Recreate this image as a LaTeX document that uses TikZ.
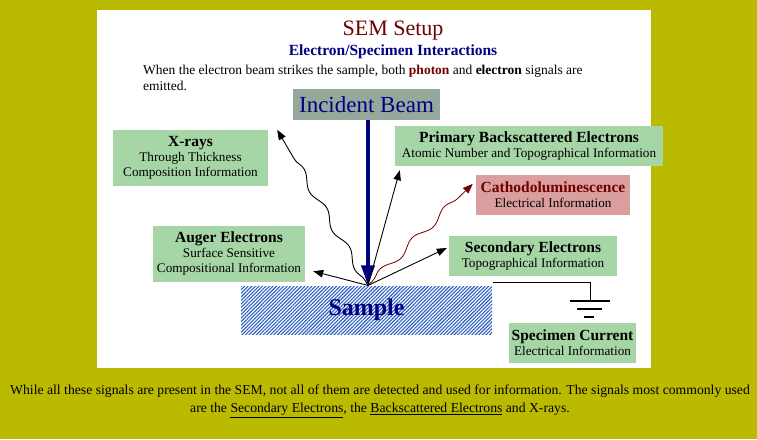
\documentclass[tikz,border=0pt]{standalone}
\usepackage{fontspec}
\setmainfont{Liberation Serif}
\usetikzlibrary{arrows.meta,positioning,patterns.meta,decorations.pathmorphing}
\definecolor{olivebg}{RGB}{186,186,0}
\definecolor{boxgreen}{RGB}{166,214,166}
\definecolor{beamgray}{RGB}{150,168,156}
\definecolor{clpink}{RGB}{218,158,158}
\definecolor{darkred}{RGB}{112,0,0}
\definecolor{navyblue}{RGB}{0,0,128}
\definecolor{samplefill}{RGB}{165,195,238}
\definecolor{samplehatch}{RGB}{45,95,195}
\newcommand{\boxhead}[1]{{\fontsize{15.5}{16}\selectfont\bfseries #1}}

\begin{document}
\begin{tikzpicture}[x=1pt,y=-1pt,
  infobox/.style={fill=boxgreen,align=center,inner sep=0pt,font=\fontsize{13.2}{15}\selectfont},
  sig/.style={-{Triangle[length=10pt,width=7.5pt]},line width=.9pt},
  wavy/.style={decorate,decoration={snake,amplitude=3.5pt,segment length=45pt,pre length=6pt,post length=12pt}}]
\useasboundingbox (0,0) rectangle (757,439);
\fill[olivebg] (0,0) rectangle (757,439);
\fill[white] (97,10) rectangle (651,368);
\node (title) at (393,31) {\fontsize{22}{24}\selectfont\color{darkred}SEM Setup};
\node (subtitle) at (393,52) {\fontsize{15.5}{17}\selectfont\bfseries\color{navyblue}Electron/Specimen Interactions};
\node[anchor=north west,align=left,inner sep=0pt,font=\fontsize{13.5}{15.5}\selectfont] (intro) at (143,65)
  {When the electron beam strikes the sample, both \textbf{\color{darkred}photon} and \textbf{electron} signals are\\emitted.};
\node[fill=beamgray,minimum width=147pt,minimum height=31pt,inner sep=0pt,font=\fontsize{23}{25}\selectfont\color{navyblue}] (beam) at (366.5,104.5) {Incident Beam};
\node[infobox,minimum width=155pt,minimum height=56pt] (xray) at (190.5,158) {\boxhead{X-rays}\\Through Thickness\\Composition Information};
\node[infobox,minimum width=268pt,minimum height=40pt] (prim) at (529,146) {\boxhead{Primary Backscattered Electrons}\\Atomic Number and Topographical Information};
\node[infobox,fill=clpink,minimum width=154pt,minimum height=40pt] (cl) at (553,195) {\boxhead{\color{darkred}Cathodoluminescence}\\Electrical Information};
\node[infobox,minimum width=152pt,minimum height=56pt] (auger) at (229,254) {\boxhead{Auger Electrons}\\Surface Sensitive\\Compositional Information};
\node[infobox,minimum width=168pt,minimum height=40pt] (sec) at (533,256) {\boxhead{Secondary Electrons}\\Topographical Information};
\node[infobox,minimum width=127pt,minimum height=40pt] (spec) at (572.5,343) {\boxhead{Specimen Current}\\Electrical Information};
\node[fill=samplefill,pattern={Lines[angle=45,distance=2.5pt,line width=1.1pt]},pattern color=samplehatch,minimum width=251pt,minimum height=48pt,inner sep=0pt] (sample) at (366.5,310) {};
\node[font=\fontsize{24}{26}\selectfont\bfseries\color{navyblue}] (samplelabel) at (sample.center) {Sample};
\coordinate (hit) at ([xshift=1.5pt]sample.north);
\coordinate (gnd) at (590,301);
\draw[navyblue,line width=3.5pt,-{Triangle[length=20pt,width=13pt]}] (beam.south) ++(1.5,0) -- (hit);
\draw[sig,wavy] (hit) -- ([xshift=9pt]xray.north east);
\draw[sig] (hit) -- ([shift={(5,4)}]prim.south west);
\draw[sig,darkred,wavy,line width=.8pt] (hit) -- ([shift={(-3,9)}]cl.north west);
\draw[sig] (hit) -- ([shift={(-2,-8)}]sec.west);
\draw[sig] (hit) -- ([shift={(8,-11)}]auger.south east);
\draw[line width=.7pt] ([yshift=3pt]sample.north east) -| (gnd);
\draw[line width=1.5pt] ([xshift=-20pt]gnd) -- ([xshift=20pt]gnd);
\draw[line width=1.5pt] ([shift={(-13,8)}]gnd) -- ([shift={(12,8)}]gnd);
\draw[line width=1.5pt] ([shift={(-6,16)}]gnd) -- ([shift={(4,16)}]gnd);
\node[align=center,font=\fontsize{13.7}{18}\selectfont] (note) at (380,401)
  {While all these signals are present in the SEM, not all of them are detected and used for information. The signals most commonly used\\
   are the \underline{Secondary Electrons}, the \underline{Backscattered Electrons} and X-rays.};
\end{tikzpicture}
\end{document}
